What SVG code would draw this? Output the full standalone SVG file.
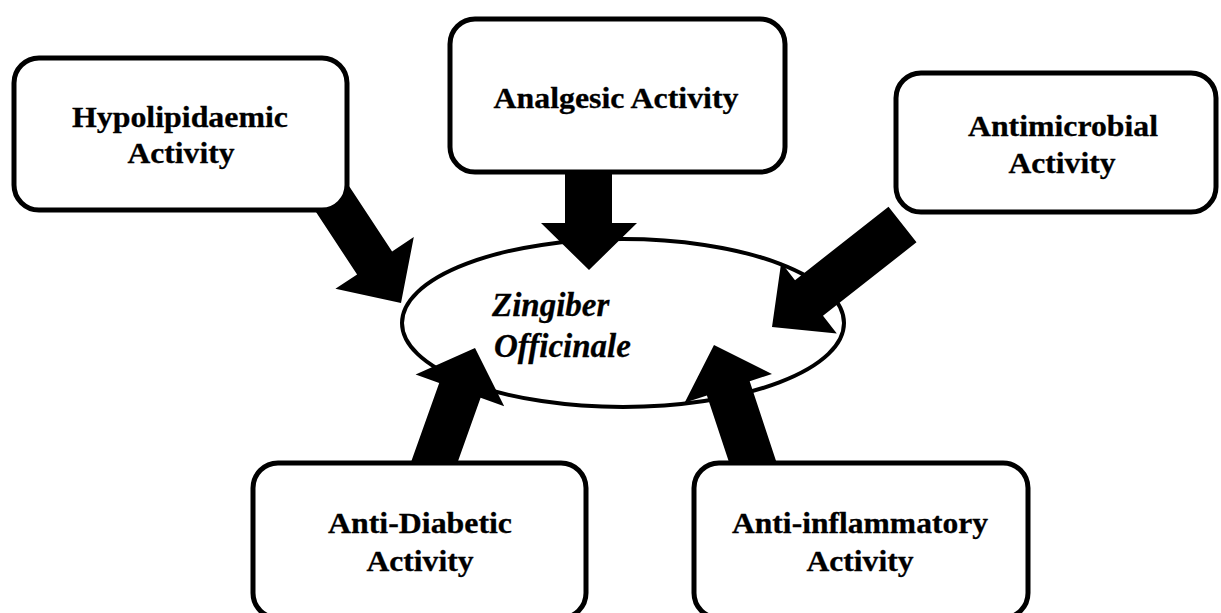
<svg xmlns="http://www.w3.org/2000/svg" width="1221" height="613" viewBox="0 0 1221 613">
  <style>
    .box { fill: #ffffff; stroke: #000000; stroke-width: 5; }
    .lbl { font-family: "Liberation Serif", "Times New Roman", Times, serif; font-weight: bold; font-size: 30px; fill: #000000; stroke: #000000; stroke-width: 0.3; text-anchor: middle; }
    .center { font-family: "Liberation Serif", "Times New Roman", Times, serif; font-weight: bold; font-style: italic; font-size: 33px; fill: #000000; stroke: #000000; stroke-width: 0.3; }
    .arrow { fill: #000000; stroke: none; }
  </style>
  <rect width="1221" height="613" fill="#ffffff"/>

  <g id="center-node">
    <ellipse cx="623" cy="323" rx="221" ry="84" fill="#ffffff" stroke="#000000" stroke-width="4"/>
    <text class="center" x="492" y="316">Zingiber</text>
    <text class="center" x="494" y="357">Officinale</text>
  </g>

  <g id="connectors">
    <polygon class="arrow" points="296.6,182.6 331.6,159.5 392.1,251.4 413.8,237.1 401,303 335.4,288.7 357.1,274.5"/>
    <polygon class="arrow" points="565,168 612,168 612,223 637,223 589,270 541,223 565,223"/>
    <polygon class="arrow" points="888.5,206.7 916.5,242.3 823,315.8 836.8,333.4 772,327 781.2,262.6 795,280.2"/>
    <polygon class="arrow" points="406.6,474.4 448,489.2 480.6,397.8 504.2,406.2 475,348 415.6,374.6 439.2,383"/>
    <polygon class="arrow" points="737.9,489.1 780.7,474.9 749.7,381.3 772,374 714,345.1 684.6,402.8 706.9,395.5"/>
  </g>

  <g id="node-hypolipidaemic">
    <rect class="box" x="14" y="58" width="333" height="152" rx="25" ry="25"/>
    <text class="lbl" x="180" y="127" textLength="216" lengthAdjust="spacingAndGlyphs">Hypolipidaemic</text>
    <text class="lbl" x="181" y="163" textLength="107" lengthAdjust="spacingAndGlyphs">Activity</text>
  </g>

  <g id="node-analgesic">
    <rect class="box" x="450" y="19" width="335" height="153" rx="25" ry="25"/>
    <text class="lbl" x="616" y="108" textLength="245" lengthAdjust="spacingAndGlyphs">Analgesic Activity</text>
  </g>

  <g id="node-antimicrobial">
    <rect class="box" x="896" y="73" width="320" height="139" rx="25" ry="25"/>
    <text class="lbl" x="1063" y="136" textLength="190" lengthAdjust="spacingAndGlyphs">Antimicrobial</text>
    <text class="lbl" x="1062" y="173" textLength="107" lengthAdjust="spacingAndGlyphs">Activity</text>
  </g>

  <g id="node-antidiabetic">
    <rect class="box" x="253" y="463" width="333" height="155" rx="25" ry="25"/>
    <text class="lbl" x="420" y="533" textLength="184" lengthAdjust="spacingAndGlyphs">Anti-Diabetic</text>
    <text class="lbl" x="420" y="571" textLength="107" lengthAdjust="spacingAndGlyphs">Activity</text>
  </g>

  <g id="node-antiinflammatory">
    <rect class="box" x="694" y="463" width="334" height="155" rx="25" ry="25"/>
    <text class="lbl" x="860" y="533" textLength="256" lengthAdjust="spacingAndGlyphs">Anti-inflammatory</text>
    <text class="lbl" x="860" y="571" textLength="107" lengthAdjust="spacingAndGlyphs">Activity</text>
  </g>
</svg>
